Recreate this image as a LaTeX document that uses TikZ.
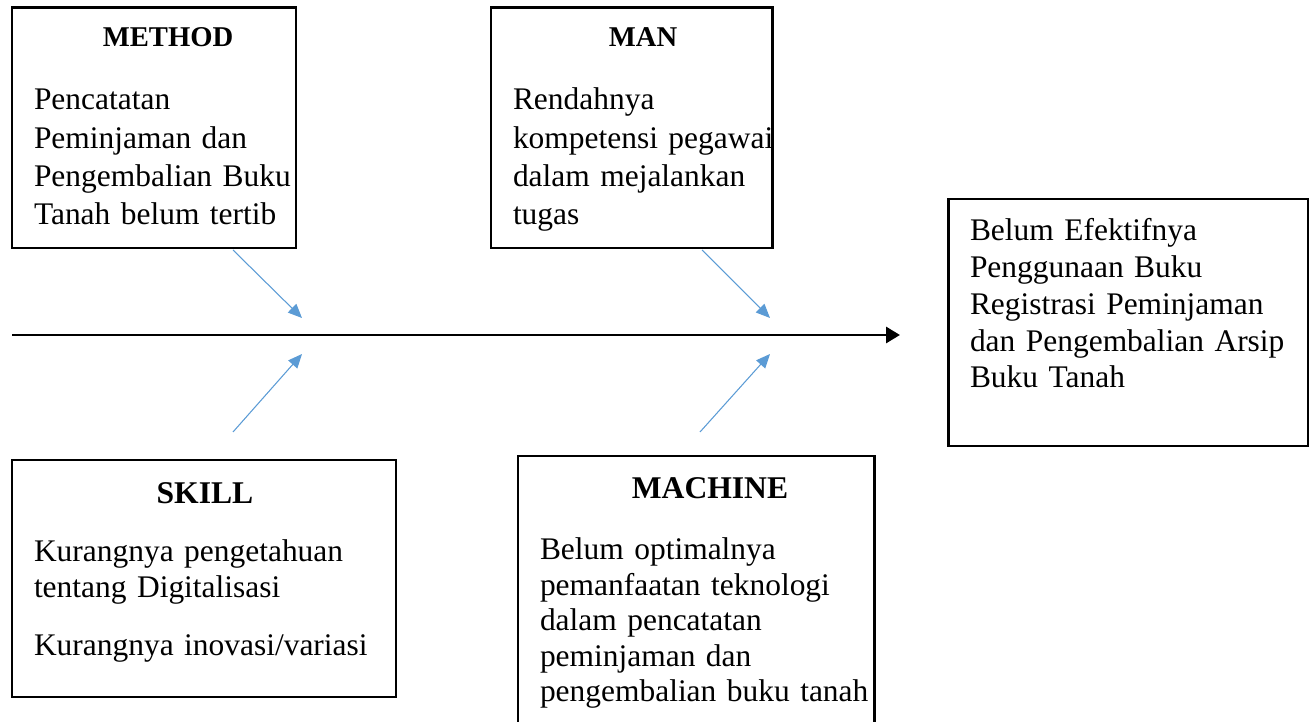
\documentclass[tikz,border=0pt]{standalone}
\usepackage{fontspec}
\setmainfont{Liberation Serif}
\usetikzlibrary{arrows.meta,fit}
\definecolor{arrowblue}{RGB}{91,155,213}

\begin{document}
\begin{tikzpicture}[x=0.02cm,y=-0.02cm,
	every node/.style={inner sep=0pt, outer sep=0pt},
	catbox/.style={draw, line width=1.7pt},
	head/.style={font=\fontsize{16.3}{19}\selectfont\bfseries, anchor=base},
	bighead/.style={font=\fontsize{18}{21}\selectfont\bfseries, anchor=base},
	body/.style={font=\fontsize{17.9}{21.8}\selectfont, anchor=base west, align=left, text width=7.2cm},
	cause/.style={draw=arrowblue, line width=0.6pt, -{Triangle[length=0.28cm,width=0.24cm]}},
	spine/.style={draw, line width=1.7pt, -{Triangle[length=0.28cm,width=0.32cm]}}]
	\useasboundingbox (0,0) rectangle (1309,722);
	% boxes
	\node[catbox, fit={(12,8) (296,248)}] (method) {};
	\node[catbox, fit={(491,8) (772,248)}] (man) {};
	\node[catbox, fit={(12,460) (396,697)}] (skill) {};
	\node[catbox, fit={(518,456) (874,727)}] (machine) {};
	\node[catbox, fit={(948,199) (1308,446)}] (effect) {};
	% titles
	\node[head] (methodtitle) at (168,47) {METHOD};
	\node[head] (mantitle) at (643,47) {MAN};
	\node[bighead] (skilltitle) at (205,504) {SKILL};
	\node[bighead] (machinetitle) at (710,499) {MACHINE};
	% texts
	\node[body] (methodtext) at (34,110) {Pencatatan\\Peminjaman dan\\Pengembalian Buku\\Tanah belum tertib};
	\node[body] (mantext) at (513,110) {Rendahnya\\kompetensi pegawai\\dalam mejalankan\\tugas};
	\node[body, font=\fontsize{17.9}{20.1}\selectfont] (skilltext) at (34,562) {Kurangnya pengetahuan\\tentang Digitalisasi\\[13pt]Kurangnya inovasi/variasi};
	\node[body, font=\fontsize{17.9}{20.2}\selectfont] (machinetext) at (540,560) {Belum optimalnya\\pemanfaatan teknologi\\dalam pencatatan\\peminjaman dan\\pengembalian buku tanah};
	\node[body, font=\fontsize{17.9}{20.9}\selectfont] (effecttext) at (970,241) {Belum Efektifnya\\Penggunaan Buku\\Registrasi Peminjaman\\dan Pengembalian Arsip\\Buku Tanah};
	% fishbone
	\coordinate (tail) at (12,335);
	\coordinate (tip) at (900,335);
	\draw[spine] (tail) -- (tip);
	\coordinate (m1) at (233,250);
	\coordinate (m2) at (302,318);
	\coordinate (s1) at (233,432);
	\coordinate (s2) at (302,354);
	\coordinate (a1) at (702,250);
	\coordinate (a2) at (770,318);
	\coordinate (c1) at (700,432);
	\coordinate (c2) at (770,354);
	\draw[cause] (m1) -- (m2);
	\draw[cause] (s1) -- (s2);
	\draw[cause] (a1) -- (a2);
	\draw[cause] (c1) -- (c2);
\end{tikzpicture}
\end{document}
